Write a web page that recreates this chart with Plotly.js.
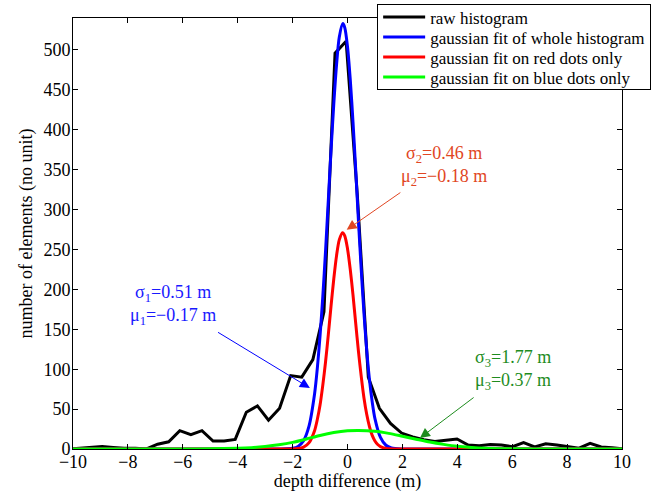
<!DOCTYPE html>
<html>
<head>
<meta charset="utf-8">
<script src="https://cdn.plot.ly/plotly-3.0.1.min.js"></script>
<style>html,body{margin:0;padding:0;background:#fff;}#chart{width:654px;height:492px;}</style>
</head>
<body>
<div id="chart"></div>
<script>
// raw histogram (bin centres, counts)
const histX = [-10.15, -9.746, -9.342, -8.938, -8.534, -8.13, -7.726, -7.322, -6.918, -6.514, -6.11, -5.706, -5.302, -4.898, -4.494, -4.09, -3.686, -3.282, -2.878, -2.474, -2.07, -1.666, -1.262, -0.858, -0.454, -0.05, 0.354, 0.758, 1.162, 1.566, 1.97, 2.374, 2.778, 3.182, 3.586, 3.99, 4.394, 4.798, 5.202, 5.606, 6.01, 6.414, 6.818, 7.222, 7.626, 8.03, 8.434, 8.838, 9.242, 9.646, 10.05];
const histY = [0, 1, 2, 3, 2, 1, 1, 0, 6, 9, 23, 18, 23, 10, 10, 12, 46, 54, 36, 51, 92, 90, 112, 172, 496, 511, 320, 90, 51, 32, 20, 15, 11.5, 9.5, 11, 12.5, 5, 4, 5.5, 5, 3, 8, 2.5, 6.5, 5, 3, 1, 7, 2.5, 1.5, 0];

// gaussian fit of whole histogram
const wholeX = [-10, -3, -2.5, -2, -1.8, -1.6, -1.4, -1.2, -1.1, -1, -0.9, -0.8, -0.7, -0.6, -0.5, -0.4, -0.3, -0.17, -0.1, 0, 0.1, 0.2, 0.3, 0.4, 0.5, 0.6, 0.7, 0.8, 0.9, 1, 1.2, 1.4, 1.6, 2, 2.5, 10];
const wholeY = [0, 0, 0.02, 0.85, 3.2, 10.5, 29, 69, 101, 142, 191, 248, 311, 374, 432, 481, 516, 533, 528, 504, 463, 410, 349, 285, 225, 170, 124, 87, 59, 38, 14.5, 4.7, 1.3, 0.06, 0, 0];

// gaussian fit on red dots only
const redX = [-10, -2.5, -2, -1.8, -1.6, -1.4, -1.2, -1.1, -1, -0.9, -0.8, -0.7, -0.6, -0.5, -0.4, -0.3, -0.18, -0.1, 0, 0.1, 0.2, 0.3, 0.4, 0.5, 0.6, 0.7, 0.8, 0.9, 1, 1.1, 1.2, 1.4, 1.6, 2, 10];
const redY = [0, 0, 0.11, 0.55, 2.3, 8, 23, 37, 55, 80, 109, 143, 179, 213, 242, 262, 271, 267, 251, 225, 193, 157, 122, 91, 64, 43.5, 28, 17, 10, 5.6, 3, 0.74, 0.15, 0, 0];

// gaussian fit on blue dots only
const greenX = [-10, -7, -6, -5, -4, -3.5, -3, -2.5, -2, -1.5, -1, -0.5, 0, 0.4, 1, 1.5, 2, 2.5, 3, 3.5, 4, 4.5, 5, 6, 7, 10];
const greenY = [0, 0, 0.05, 0.25, 0.9, 1.7, 3.2, 5.3, 8.3, 12.5, 17, 20.6, 22.8, 23.3, 22.2, 19.6, 16, 12.3, 8.7, 5.8, 3.4, 1.9, 0.9, 0.2, 0.03, 0];

const seriesNames = ['raw histogram', 'gaussian fit of whole histogram', 'gaussian fit on red dots only', 'gaussian fit on blue dots only'];
const xTicks = [-10, -8, -6, -4, -2, 0, 2, 4, 6, 8, 10];
const yTicks = [0, 50, 100, 150, 200, 250, 300, 350, 400, 450, 500];

const FONT = 'Liberation Serif, Times New Roman, serif';

const traces = [
  {x: histX, y: histY, name: seriesNames[0], mode: 'lines', line: {color: 'black', width: 3}},
  {x: wholeX, y: wholeY, name: seriesNames[1], mode: 'lines', line: {color: 'rgb(0,0,255)', width: 3, shape: 'spline', smoothing: 0.8}},
  {x: redX, y: redY, name: seriesNames[2], mode: 'lines', line: {color: 'rgb(255,0,0)', width: 3, shape: 'spline', smoothing: 0.8}},
  {x: greenX, y: greenY, name: seriesNames[3], mode: 'lines', line: {color: 'rgb(0,255,0)', width: 3, shape: 'spline', smoothing: 0.8}}
];

const blueTxt = 'rgb(25,25,255)';
const redTxt = 'rgb(225,70,35)';
const greenTxt = 'rgb(30,140,30)';

const axisCommon = {
  ticks: 'inside', ticklen: 5, tickwidth: 1, tickcolor: 'black',
  mirror: 'ticks', showline: true, linecolor: 'black', linewidth: 1,
  showgrid: false, zeroline: false, automargin: false,
  tickfont: {family: FONT, size: 18, color: 'black'}
};

const layout = {
  width: 654, height: 492,
  margin: {l: 73, r: 32, t: 18, b: 43, autoexpand: false},
  paper_bgcolor: 'white', plot_bgcolor: 'white',
  font: {family: FONT, size: 17, color: 'black'},
  showlegend: true,
  xaxis: Object.assign({}, axisCommon, {
    range: [-10, 10], tickmode: 'array', tickvals: xTicks, ticklabelstandoff: -4,
    title: {text: 'depth difference (m)', font: {family: FONT, size: 18}, standoff: 0}
  }),
  yaxis: Object.assign({}, axisCommon, {
    range: [0, 540], tickmode: 'array', tickvals: yTicks, ticklabelstandoff: -2,
    title: {text: 'number of elements (no unit)', font: {family: FONT, size: 18}, standoff: 6}
  }),
  legend: {
    x: 0.554, y: 1.0325, xanchor: 'left', yanchor: 'top',
    bordercolor: 'black', borderwidth: 1, bgcolor: 'white', itemwidth: 42,
    font: {family: FONT, size: 17, color: 'black'}, tracegroupgap: 0
  },
  annotations: [
    {x: -6.36, y: 181, xref: 'x', yref: 'y', showarrow: false, align: 'center',
     text: 'σ<sub>1</sub>=0.51 m<br>μ<sub>1</sub>=−0.17 m', font: {family: FONT, size: 18, color: blueTxt}},
    {x: -1.37, y: 76.4, ax: -4.77, ay: 147.3, xref: 'x', yref: 'y', axref: 'x', ayref: 'y',
     text: '', showarrow: true, arrowhead: 2, arrowsize: 2, arrowwidth: 1, arrowcolor: 'rgb(0,0,255)', standoff: 0},
    {x: 3.52, y: 355, xref: 'x', yref: 'y', showarrow: false, align: 'center',
     text: 'σ<sub>2</sub>=0.46 m<br>μ<sub>2</sub>=−0.18 m', font: {family: FONT, size: 18, color: redTxt}},
    {x: -0.03, y: 274.6, ax: 1.98, ay: 322.6, xref: 'x', yref: 'y', axref: 'x', ayref: 'y',
     text: '', showarrow: true, arrowhead: 2, arrowsize: 2, arrowwidth: 1, arrowcolor: redTxt, standoff: 0},
    {x: 6.02, y: 98.5, xref: 'x', yref: 'y', showarrow: false, align: 'center',
     text: 'σ<sub>3</sub>=1.77 m<br>μ<sub>3</sub>=0.37 m', font: {family: FONT, size: 18, color: greenTxt}},
    {x: 2.64, y: 13.8, ax: 4.65, ay: 65.9, xref: 'x', yref: 'y', axref: 'x', ayref: 'y',
     text: '', showarrow: true, arrowhead: 2, arrowsize: 2, arrowwidth: 1, arrowcolor: greenTxt, standoff: 0}
  ]
};

Plotly.newPlot('chart', traces, layout, {displayModeBar: false, staticPlot: true}).then(function (gd) {
  // tighten legend row spacing to match the reference's compact legend box
  var leg = gd.querySelector('.legend');
  if (!leg) return;
  var items = leg.querySelectorAll('.traces');
  var rows = [];
  items.forEach(function (t) {
    var m = /translate\(\s*([-\d.e]+)[ ,]+([-\d.e]+)\s*\)/.exec(t.getAttribute('transform') || '');
    if (m) rows.push([t, parseFloat(m[1]), parseFloat(m[2])]);
  });
  if (rows.length < 2) return;
  var step = 20;
  var first = Math.min(rows[0][2], 13);
  rows.forEach(function (r, i) {
    r[0].setAttribute('transform', 'translate(' + r[1] + ',' + (first + i * step) + ')');
  });
  var bg = leg.querySelector('rect.bg');
  if (bg) bg.setAttribute('height', first + (rows.length - 1) * step + 12.5);
});
</script>
</body>
</html>
